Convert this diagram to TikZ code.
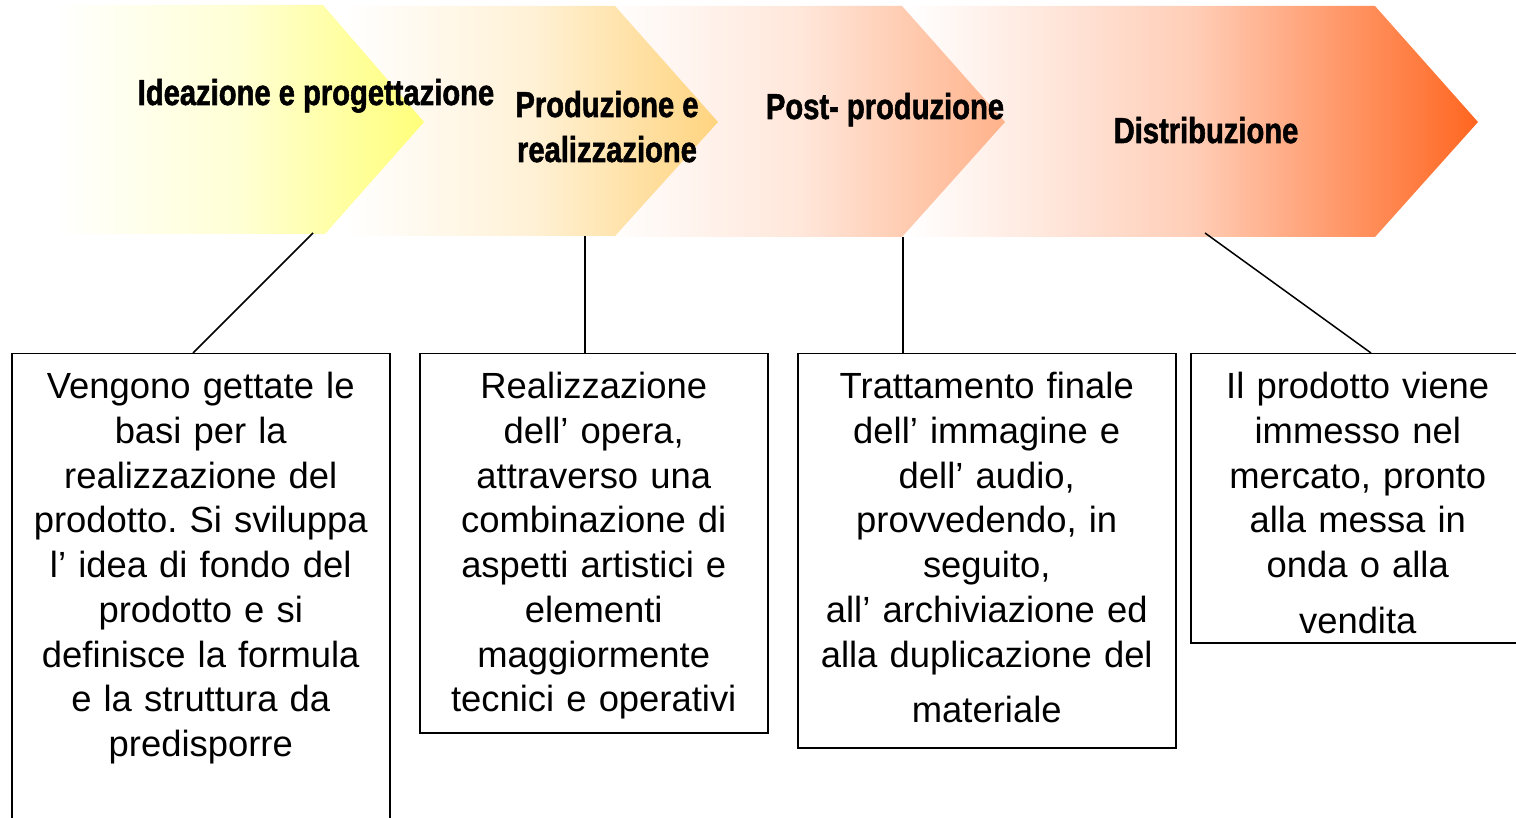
\documentclass[tikz,border=0pt]{standalone}
\usepackage{fontspec}
\setmainfont{Liberation Sans}
\newfontfamily\headfont[FakeStretch=0.81,FakeBold=1.5]{Liberation Sans Bold}
\usetikzlibrary{calc}
\frenchspacing
\definecolor{cA}{HTML}{FFFF7A}
\definecolor{cB}{HTML}{FFD47F}
\definecolor{cC}{HTML}{FFB28A}
\definecolor{cD}{HTML}{FF6620}
\tikzset{
  chev/.style={left color=white, right color=#1, middle color=#1!32!white},
  head/.style={font=\headfont\fontsize{36}{45}\selectfont, inner sep=0pt, align=center},
  descbox/.style={draw=black, line width=1.5pt, inner sep=0pt, align=center,
    text height=45pt, font=\fontsize{36.4}{44.75}\selectfont},
  link/.style={draw=black, line width=1.5pt}
}
\begin{document}
\begin{tikzpicture}[x=1pt,y=-1pt]
\useasboundingbox (0,0) rectangle (1516,818);
\clip (0,0) rectangle (1516,818);
% chevrons, last one first
\path[chev=cD] (905,6) -- (1375,6) -- (1478,122) -- (1375,237) -- (905,237) -- cycle;
\path[chev=cC] (600,6) -- (902,6) -- (1005,122) -- (902,237) -- (600,237) -- cycle;
\path[chev=cB] (345,6) -- (615,6) -- (718,122) -- (615,236) -- (345,236) -- cycle;
\path[chev=cA] (55,5) -- (323,5) -- (424,122) -- (325,234) -- (55,234) -- cycle;
\coordinate (a1b) at (313,233);
\coordinate (a2b) at (585,236);
\coordinate (a3b) at (903,237);
\coordinate (a4b) at (1205,233);
% headings
\node[head, anchor=base] (h1) at (316,105) {Ideazione e progettazione};
\node[head, anchor=base] (h2) at (607,162) {Produzione e\\realizzazione};
\node[head, anchor=base] (h3) at (885,119) {Post- produzione};
\node[head, anchor=base] (h4) at (1206,143) {Distribuzione};
% boxes
\node[descbox, anchor=north west, text width=378pt, text depth=432pt] (b1) at (11,353)
 {Vengono gettate le\\basi per la\\realizzazione del\\prodotto. Si sviluppa\\l’ idea di fondo del\\prodotto e si\\definisce la formula\\e la struttura da\\predisporre};
\node[descbox, anchor=north west, text width=348pt, text depth=334pt] (b2) at (419,353)
 {Realizzazione\\dell’ opera,\\attraverso una\\combinazione di\\aspetti artistici e\\elementi\\maggiormente\\tecnici e operativi};
\node[descbox, anchor=north west, text width=378pt, text depth=349pt] (b3) at (797,353)
 {Trattamento finale\\dell’ immagine e\\dell’ audio,\\provvedendo, in\\seguito,\\all’ archiviazione ed\\alla duplicazione del\\[10.5pt]materiale};
\node[descbox, anchor=north west, text width=334pt, text depth=244pt] (b4) at (1190,353)
 {Il prodotto viene\\immesso nel\\mercato, pronto\\alla messa in\\onda o alla\\[11pt]vendita};
% connectors
\draw[link] (a1b) -- ($(b1.north west)+(182,0)$);
\draw[link] (a2b) -- (a2b |- b2.north);
\draw[link] (a3b) -- (a3b |- b3.north);
\draw[link] (a4b) -- ($(b4.north west)+(181,0)$);
\end{tikzpicture}
\end{document}
